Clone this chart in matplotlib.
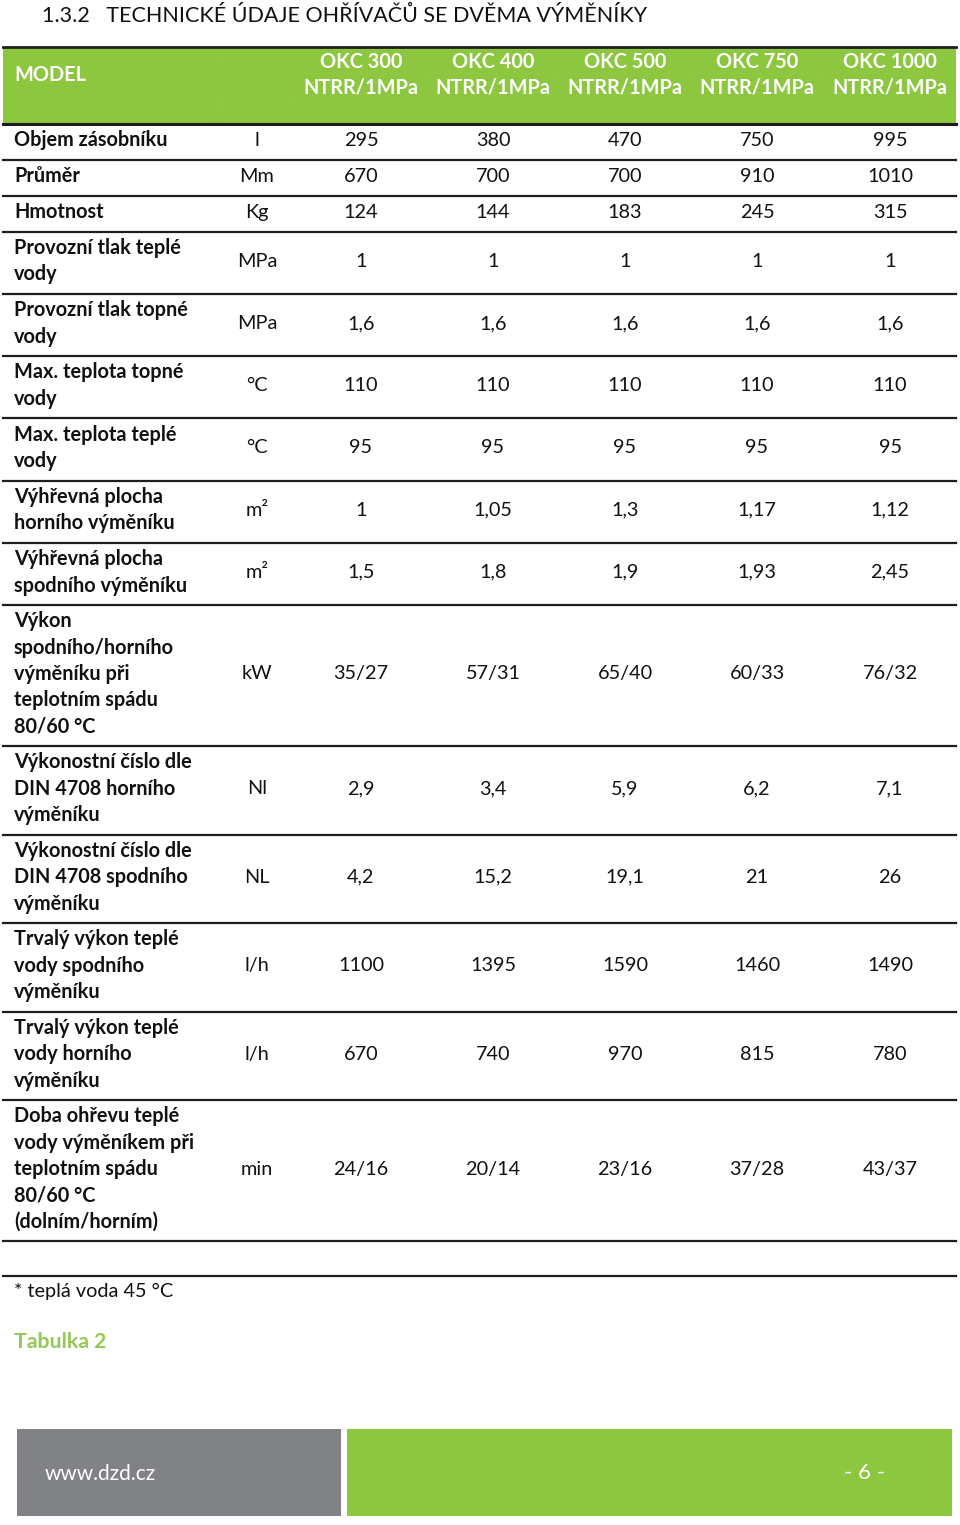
import matplotlib
matplotlib.use("Agg")
import matplotlib.pyplot as plt
from matplotlib.patches import Rectangle

plt.rcParams['font.family'] = ['Lato', 'DejaVu Sans']

title = "1.3.2   TECHNICKÉ ÚDAJE OHŘÍVAČŮ SE DVĚMA VÝMĚNÍKY"
models = ["OKC 300", "OKC 400", "OKC 500", "OKC 750", "OKC 1000"]
model_sub = "NTRR/1MPa"

labels = [
    "Objem zásobníku",
    "Průměr",
    "Hmotnost",
    "Provozní tlak teplé\nvody",
    "Provozní tlak topné\nvody",
    "Max. teplota topné\nvody",
    "Max. teplota teplé\nvody",
    "Výhřevná plocha\nhorního výměníku",
    "Výhřevná plocha\nspodního výměníku",
    "Výkon\nspodního/horního\nvýměníku při\nteplotním spádu\n80/60 °C",
    "Výkonostní číslo dle\nDIN 4708 horního\nvýměníku",
    "Výkonostní číslo dle\nDIN 4708 spodního\nvýměníku",
    "Trvalý výkon teplé\nvody spodního\nvýměníku",
    "Trvalý výkon teplé\nvody horního\nvýměníku",
    "Doba ohřevu teplé\nvody výměníkem při\nteplotním spádu\n80/60 °C\n(dolním/horním)",
]
units = ["l", "Mm", "Kg", "MPa", "MPa", "°C", "°C", "m²", "m²", "kW",
         "Nl", "NL", "l/h", "l/h", "min"]

okc300 = ["295", "670", "124", "1", "1,6", "110", "95", "1", "1,5", "35/27",
          "2,9", "4,2", "1100", "670", "24/16"]
okc400 = ["380", "700", "144", "1", "1,6", "110", "95", "1,05", "1,8", "57/31",
          "3,4", "15,2", "1395", "740", "20/14"]
okc500 = ["470", "700", "183", "1", "1,6", "110", "95", "1,3", "1,9", "65/40",
          "5,9", "19,1", "1590", "970", "23/16"]
okc750 = ["750", "910", "245", "1", "1,6", "110", "95", "1,17", "1,93", "60/33",
          "6,2", "21", "1460", "815", "37/28"]
okc1000 = ["995", "1010", "315", "1", "1,6", "110", "95", "1,12", "2,45", "76/32",
           "7,1", "26", "1490", "780", "43/37"]
columns = [okc300, okc400, okc500, okc750, okc1000]

footnote = "* teplá voda 45 °C"
caption = "Tabulka 2"
web = "www.dzd.cz"
page = "- 6 -"

GREEN = "#8dc63f"
LINE = "#1e1e1e"

fig = plt.figure(figsize=(9.6, 15.25), dpi=100)
ax = fig.add_axes([0, 0, 1, 1])
ax.set_xlim(0, 960)
ax.set_ylim(1525, 0)
ax.axis("off")

x0, x1 = 3, 956
col_x = [361, 493, 625, 757, 890]
unit_x = 257
fs = 14.3

# title
ax.text(42, 16, title, fontsize=15.5, va="center", ha="left", color="#111111")

# header band
ax.add_patch(Rectangle((x0, 47), x1 - x0, 77, color=GREEN, lw=0))
light = "#93c948"
for xv in [218, 295, 427, 559, 691, 823]:
    ax.plot([xv, xv], [48, 123], color=light, lw=0.6)
ax.plot([10, 218], [60, 60], color=light, lw=0.6)
ax.plot([10, 218], [110, 110], color=light, lw=0.6)
ax.plot([218, 295], [97, 97], color=light, lw=0.6)
ax.plot([295, 950], [73, 73], color=light, lw=0.6)
ax.plot([x0, x1], [47, 47], color=LINE, lw=2)
ax.plot([x0, x1], [124, 124], color=LINE, lw=2.2)
ax.text(14, 75, "MODEL", fontsize=fs, fontweight="bold", color="white",
        va="center", ha="left")
for cx, m in zip(col_x, models):
    ax.text(cx, 62, m, fontsize=fs, fontweight="bold", color="white",
            va="center", ha="center")
    ax.text(cx, 88, model_sub, fontsize=fs, fontweight="bold", color="white",
            va="center", ha="center")

# body rows
y = 124
for i, lab in enumerate(labels):
    n = lab.count("\n") + 1
    h = 9.6 + 26.3 * n
    cy = y + h / 2 - 1.5
    ax.text(14, cy, lab, fontsize=fs, fontweight="bold", color="#111111",
            va="center", ha="left", linespacing=1.4)
    ax.text(unit_x, cy, units[i], fontsize=fs, color="#111111",
            va="center", ha="center")
    for cx, col in zip(col_x, columns):
        ax.text(cx, cy, col[i], fontsize=fs, color="#111111",
                va="center", ha="center")
    y += h
    ax.plot([x0, x1], [y, y], color=LINE, lw=1.6)

ax.plot([x0, x1], [1276, 1276], color=LINE, lw=1.6)

ax.text(14, 1291, footnote, fontsize=fs, color="#111111", va="center", ha="left")
ax.text(14, 1342, caption, fontsize=15.3, fontweight="bold", color="#93c954",
        va="center", ha="left")

# footer
ax.add_patch(Rectangle((17, 1429), 324, 87, color="#808285", lw=0))
ax.add_patch(Rectangle((347, 1429), 605, 87, color=GREEN, lw=0))
ax.text(45, 1474, web, fontsize=15, color="white", va="center", ha="left")
ax.text(864, 1473, page, fontsize=16, color="white", va="center", ha="center")

fig.savefig("out.png", dpi=100)
